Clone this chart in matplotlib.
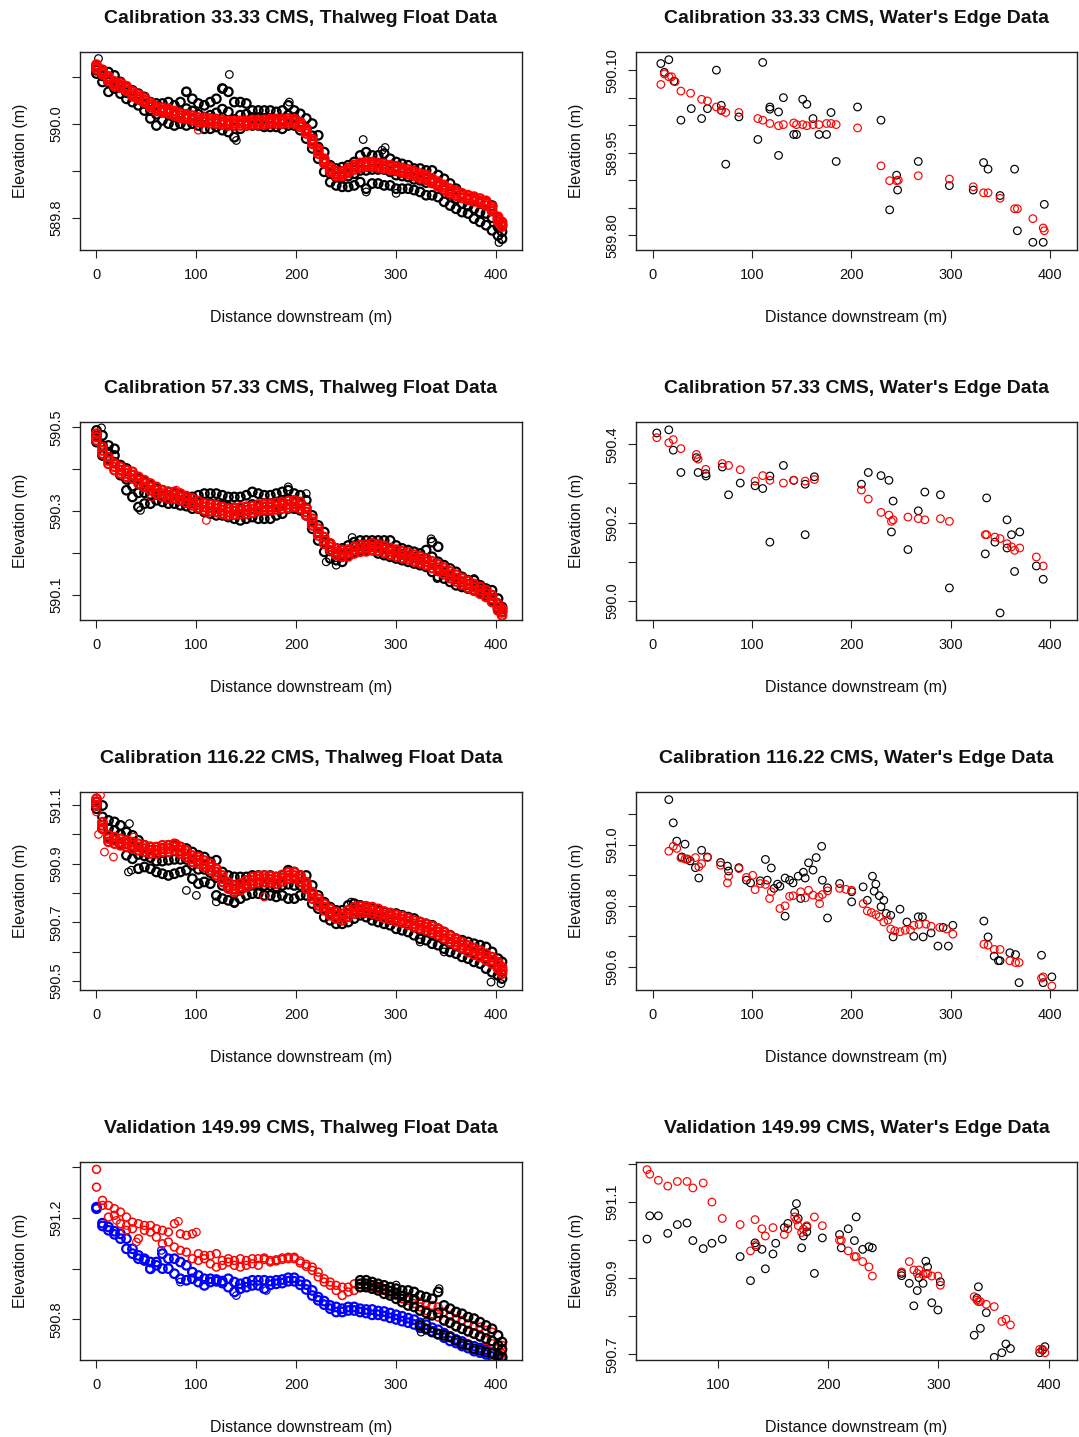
import matplotlib
matplotlib.use("Agg")
import matplotlib.pyplot as plt

plt.rcParams['font.family'] = ['Liberation Sans', 'DejaVu Sans']

# survey stations along the reach (m) used for the thalweg float tracks
STATIONS = [0, 6, 12, 18, 24, 30, 36, 42, 48, 54, 60, 66, 72, 78, 84, 90, 96, 102, 108, 114,
            120, 126, 132, 138, 144, 150, 156, 162, 168, 174, 180, 186, 192, 198, 204, 210, 216,
            222, 228, 234, 240, 246, 252, 258, 264, 270, 276, 282, 288, 294, 300, 306, 312, 318,
            324, 330, 336, 342, 348, 354, 360, 366, 372, 378, 384, 390, 396, 402, 406]

# ---- Calibration 33.33 CMS, thalweg ----
t1_blk_hi = [590.122, 590.115, 590.111, 590.104, 590.090, 590.079, 590.072, 590.065, 590.058, 590.047,
             590.044, 590.044, 590.047, 590.040, 590.047, 590.069, 590.054, 590.044, 590.040, 590.047,
             590.054, 590.076, 590.069, 590.047, 590.047, 590.044, 590.029, 590.029, 590.029, 590.029,
             590.026, 590.029, 590.040, 590.029, 590.022, 590.012, 590.001, 589.976, 589.940, 589.912,
             589.905, 589.908, 589.912, 589.919, 589.933, 589.940, 589.933, 589.933, 589.937, 589.926,
             589.919, 589.915, 589.912, 589.905, 589.905, 589.901, 589.901, 589.891, 589.883, 589.873,
             589.862, 589.848, 589.841, 589.841, 589.834, 589.834, 589.826, 589.798, 589.784]
t1_blk_mid = [590.115, 590.103, 590.090, 590.090, 590.078, 590.067, 590.060, 590.053, 590.044, 590.029,
              590.021, 590.026, 590.024, 590.019, 590.024, 590.033, 590.028, 590.021, 590.015, 590.019,
              590.024, 590.032, 590.026, 590.010, 590.019, 590.021, 590.014, 590.014, 590.012, 590.012,
              590.010, 590.010, 590.019, 590.014, 590.004, 589.990, 589.975, 589.951, 589.919, 589.894,
              589.887, 589.887, 589.889, 589.894, 589.901, 589.901, 589.903, 589.903, 589.903, 589.898,
              589.891, 589.889, 589.887, 589.882, 589.880, 589.875, 589.875, 589.868, 589.859, 589.850,
              589.841, 589.830, 589.825, 589.819, 589.812, 589.809, 589.800, 589.780, 589.770]
t1_blk_lo = [590.108, 590.090, 590.069, 590.076, 590.065, 590.054, 590.047, 590.040, 590.029, 590.012,
             589.997, 590.008, 590.001, 589.997, 590.001, 589.997, 590.001, 589.997, 589.990, 589.990,
             589.994, 589.987, 589.983, 589.972, 589.990, 589.997, 589.997, 589.997, 589.994, 589.994,
             589.994, 589.990, 589.997, 589.997, 589.987, 589.969, 589.948, 589.926, 589.898, 589.876,
             589.869, 589.866, 589.866, 589.869, 589.876, 589.862, 589.873, 589.873, 589.869, 589.869,
             589.862, 589.862, 589.862, 589.859, 589.855, 589.848, 589.848, 589.844, 589.834, 589.826,
             589.819, 589.812, 589.809, 589.798, 589.791, 589.784, 589.773, 589.762, 589.755]
t1_red_hi = [590.127, 590.116, 590.102, 590.091, 590.088, 590.081, 590.070, 590.063, 590.056, 590.046,
             590.038, 590.035, 590.033, 590.028, 590.023, 590.021, 590.018, 590.014, 590.014, 590.012,
             590.011, 590.009, 590.007, 590.007, 590.007, 590.007, 590.009, 590.009, 590.009, 590.011,
             590.011, 590.011, 590.012, 590.011, 590.004, 589.990, 589.968, 589.947, 589.926, 589.908,
             589.899, 589.899, 589.906, 589.913, 589.917, 589.919, 589.919, 589.917, 589.915, 589.912,
             589.910, 589.906, 589.903, 589.899, 589.894, 589.891, 589.884, 589.877, 589.870, 589.862,
             589.857, 589.852, 589.848, 589.845, 589.841, 589.836, 589.824, 589.802, 589.791]
t1_red_mid = [590.122, 590.111, 590.097, 590.086, 590.083, 590.076, 590.065, 590.058, 590.051, 590.041,
              590.033, 590.030, 590.028, 590.023, 590.018, 590.016, 590.013, 590.009, 590.009, 590.007,
              590.006, 590.004, 590.002, 590.002, 590.002, 590.002, 590.004, 590.004, 590.004, 590.006,
              590.006, 590.006, 590.007, 590.006, 589.999, 589.985, 589.963, 589.942, 589.921, 589.903,
              589.894, 589.894, 589.901, 589.908, 589.912, 589.914, 589.914, 589.912, 589.910, 589.907,
              589.905, 589.901, 589.898, 589.894, 589.889, 589.886, 589.879, 589.872, 589.865, 589.857,
              589.852, 589.847, 589.843, 589.840, 589.836, 589.831, 589.819, 589.797, 589.786]
t1_red_lo = [590.117, 590.106, 590.092, 590.081, 590.078, 590.071, 590.060, 590.053, 590.046, 590.036,
             590.028, 590.025, 590.023, 590.018, 590.013, 590.011, 590.008, 590.004, 590.004, 590.002,
             590.001, 589.999, 589.997, 589.997, 589.997, 589.997, 589.999, 589.999, 589.999, 590.001,
             590.001, 590.001, 590.002, 590.001, 589.994, 589.980, 589.958, 589.937, 589.916, 589.898,
             589.889, 589.889, 589.896, 589.903, 589.907, 589.909, 589.909, 589.907, 589.905, 589.902,
             589.900, 589.896, 589.893, 589.889, 589.884, 589.881, 589.874, 589.867, 589.860, 589.852,
             589.847, 589.842, 589.838, 589.835, 589.831, 589.826, 589.814, 589.792, 589.781]
t1_blk_out_x = [2, 133, 127, 90, 193, 267, 286, 403, 270, 289, 140, 300]
t1_blk_out_y = [590.140, 590.106, 590.076, 590.070, 590.047, 589.967, 589.944, 589.747, 589.855, 589.950,
                589.965, 589.852]
t1_red_out_x = [102]
t1_red_out_y = [589.987]

# ---- Calibration 57.33 CMS, thalweg ----
t2_blk_hi = [590.493, 590.481, 590.457, 590.449, 590.410, 590.402, 590.386, 590.378, 590.370, 590.362,
             590.354, 590.350, 590.346, 590.342, 590.338, 590.334, 590.334, 590.338, 590.342, 590.342,
             590.342, 590.338, 590.334, 590.334, 590.334, 590.338, 590.346, 590.342, 590.338, 590.338,
             590.342, 590.346, 590.350, 590.342, 590.338, 590.326, 590.290, 590.266, 590.250, 590.222,
             590.211, 590.211, 590.218, 590.226, 590.230, 590.230, 590.230, 590.230, 590.230, 590.230,
             590.218, 590.211, 590.207, 590.203, 590.199, 590.207, 590.226, 590.215, 590.171, 590.163,
             590.155, 590.143, 590.135, 590.135, 590.123, 590.115, 590.111, 590.091, 590.071]
t2_blk_mid = [590.480, 590.457, 590.441, 590.433, 590.398, 590.376, 590.360, 590.344, 590.344, 590.340,
              590.340, 590.336, 590.332, 590.330, 590.326, 590.324, 590.320, 590.322, 590.320, 590.318,
              590.316, 590.314, 590.310, 590.308, 590.306, 590.310, 590.316, 590.312, 590.310, 590.310,
              590.316, 590.320, 590.328, 590.324, 590.320, 590.308, 590.274, 590.249, 590.226, 590.205,
              590.197, 590.195, 590.207, 590.215, 590.218, 590.218, 590.218, 590.215, 590.213, 590.211,
              590.203, 590.197, 590.193, 590.189, 590.185, 590.187, 590.191, 590.179, 590.155, 590.147,
              590.139, 590.131, 590.125, 590.123, 590.115, 590.107, 590.099, 590.079, 590.066]
t2_blk_lo = [590.465, 590.433, 590.425, 590.417, 590.386, 590.350, 590.334, 590.310, 590.318, 590.318,
             590.326, 590.322, 590.318, 590.318, 590.314, 590.312, 590.306, 590.306, 590.298, 590.294,
             590.290, 590.290, 590.286, 590.282, 590.278, 590.282, 590.286, 590.282, 590.282, 590.282,
             590.290, 590.294, 590.306, 590.306, 590.302, 590.290, 590.258, 590.230, 590.203, 590.187,
             590.183, 590.179, 590.195, 590.203, 590.207, 590.207, 590.207, 590.199, 590.195, 590.191,
             590.187, 590.183, 590.179, 590.175, 590.171, 590.167, 590.155, 590.143, 590.139, 590.131,
             590.123, 590.119, 590.115, 590.111, 590.107, 590.099, 590.087, 590.067, 590.059]
t2_red_hi = [590.485, 590.453, 590.429, 590.414, 590.406, 590.398, 590.394, 590.382, 590.374, 590.366,
             590.358, 590.350, 590.346, 590.346, 590.342, 590.336, 590.330, 590.324, 590.318, 590.316,
             590.314, 590.310, 590.306, 590.308, 590.309, 590.310, 590.312, 590.316, 590.318, 590.318,
             590.320, 590.322, 590.324, 590.326, 590.322, 590.306, 590.282, 590.258, 590.238, 590.223,
             590.211, 590.207, 590.208, 590.215, 590.219, 590.220, 590.223, 590.221, 590.217, 590.212,
             590.208, 590.204, 590.201, 590.196, 590.192, 590.187, 590.180, 590.173, 590.165, 590.156,
             590.148, 590.140, 590.133, 590.126, 590.119, 590.111, 590.099, 590.079, 590.067]
t2_red_mid = [590.477, 590.445, 590.421, 590.406, 590.398, 590.390, 590.386, 590.374, 590.366, 590.358,
              590.350, 590.342, 590.338, 590.338, 590.334, 590.328, 590.322, 590.316, 590.310, 590.308,
              590.306, 590.302, 590.298, 590.300, 590.301, 590.302, 590.304, 590.308, 590.310, 590.310,
              590.312, 590.314, 590.316, 590.318, 590.314, 590.298, 590.274, 590.250, 590.230, 590.215,
              590.203, 590.199, 590.200, 590.207, 590.211, 590.212, 590.215, 590.213, 590.209, 590.204,
              590.200, 590.196, 590.193, 590.188, 590.184, 590.179, 590.172, 590.165, 590.157, 590.148,
              590.140, 590.132, 590.125, 590.118, 590.111, 590.103, 590.091, 590.071, 590.059]
t2_red_lo = [590.469, 590.437, 590.413, 590.398, 590.390, 590.382, 590.378, 590.366, 590.358, 590.350,
             590.342, 590.334, 590.330, 590.330, 590.326, 590.320, 590.314, 590.308, 590.302, 590.300,
             590.298, 590.294, 590.290, 590.292, 590.293, 590.294, 590.296, 590.300, 590.302, 590.302,
             590.304, 590.306, 590.308, 590.310, 590.306, 590.290, 590.266, 590.242, 590.222, 590.207,
             590.195, 590.191, 590.192, 590.199, 590.203, 590.204, 590.207, 590.205, 590.201, 590.196,
             590.192, 590.188, 590.185, 590.180, 590.176, 590.171, 590.164, 590.157, 590.149, 590.140,
             590.132, 590.124, 590.117, 590.110, 590.103, 590.095, 590.083, 590.063, 590.051]
t2_blk_out_x = [44, 230, 240, 341, 378, 192, 210, 335, 5, 256]
t2_blk_out_y = [590.302, 590.179, 590.171, 590.139, 590.139, 590.358, 590.342, 590.234, 590.499, 590.237]
t2_red_out_x = [110, 55, 80]
t2_red_out_y = [590.278, 590.334, 590.350]

# ---- Calibration 116.22 CMS, thalweg ----
t3_blk_hi = [591.111, 591.099, 591.048, 591.043, 591.031, 591.008, 590.997, 590.980, 590.963, 590.957,
             590.946, 590.952, 590.963, 590.963, 590.957, 590.952, 590.940, 590.929, 590.923, 590.906,
             590.912, 590.872, 590.860, 590.855, 590.855, 590.855, 590.860, 590.860, 590.860, 590.860,
             590.855, 590.860, 590.878, 590.872, 590.860, 590.860, 590.826, 590.792, 590.769, 590.752,
             590.741, 590.741, 590.758, 590.764, 590.758, 590.752, 590.747, 590.741, 590.735, 590.730,
             590.730, 590.724, 590.718, 590.713, 590.701, 590.695, 590.690, 590.678, 590.667, 590.656,
             590.644, 590.639, 590.633, 590.627, 590.622, 590.616, 590.599, 590.576, 590.565]
t3_blk_mid = [591.099, 591.060, 591.020, 591.014, 591.000, 590.969, 590.957, 590.932, 590.927, 590.921,
              590.909, 590.909, 590.912, 590.915, 590.915, 590.915, 590.895, 590.881, 590.881, 590.870,
              590.853, 590.826, 590.818, 590.813, 590.818, 590.824, 590.830, 590.830, 590.826, 590.826,
              590.821, 590.826, 590.830, 590.826, 590.826, 590.826, 590.796, 590.769, 590.744, 590.730,
              590.718, 590.718, 590.730, 590.739, 590.741, 590.735, 590.727, 590.722, 590.716, 590.710,
              590.705, 590.699, 590.693, 590.684, 590.673, 590.667, 590.659, 590.650, 590.639, 590.627,
              590.619, 590.610, 590.604, 590.596, 590.591, 590.579, 590.565, 590.548, 590.536]
t3_blk_lo = [591.088, 591.020, 590.991, 590.986, 590.969, 590.929, 590.917, 590.883, 590.889, 590.883,
             590.872, 590.866, 590.860, 590.866, 590.872, 590.878, 590.849, 590.832, 590.838, 590.832,
             590.792, 590.781, 590.775, 590.769, 590.781, 590.792, 590.798, 590.798, 590.792, 590.792,
             590.787, 590.792, 590.781, 590.781, 590.792, 590.792, 590.764, 590.747, 590.718, 590.707,
             590.695, 590.695, 590.701, 590.713, 590.724, 590.718, 590.707, 590.701, 590.695, 590.690,
             590.678, 590.673, 590.667, 590.656, 590.644, 590.639, 590.627, 590.622, 590.610, 590.599,
             590.593, 590.582, 590.576, 590.565, 590.559, 590.542, 590.530, 590.519, 590.508]
t3_red_hi = [591.122, 591.042, 590.997, 590.991, 590.985, 590.980, 590.974, 590.968, 590.963, 590.957,
             590.957, 590.963, 590.963, 590.968, 590.957, 590.945, 590.928, 590.923, 590.911, 590.900,
             590.883, 590.860, 590.837, 590.826, 590.832, 590.843, 590.854, 590.858, 590.860, 590.858,
             590.854, 590.862, 590.871, 590.871, 590.860, 590.837, 590.803, 590.780, 590.763, 590.746,
             590.735, 590.729, 590.741, 590.752, 590.755, 590.755, 590.752, 590.746, 590.737, 590.732,
             590.726, 590.721, 590.714, 590.706, 590.701, 590.695, 590.687, 590.678, 590.667, 590.655,
             590.644, 590.633, 590.621, 590.612, 590.604, 590.593, 590.581, 590.564, 590.547]
t3_red_mid = [591.111, 591.031, 590.986, 590.980, 590.974, 590.969, 590.963, 590.957, 590.952, 590.946,
              590.946, 590.952, 590.952, 590.957, 590.946, 590.934, 590.917, 590.912, 590.900, 590.889,
              590.872, 590.849, 590.826, 590.815, 590.821, 590.832, 590.843, 590.847, 590.849, 590.847,
              590.843, 590.851, 590.860, 590.860, 590.849, 590.826, 590.792, 590.769, 590.752, 590.735,
              590.724, 590.718, 590.730, 590.741, 590.744, 590.744, 590.741, 590.735, 590.726, 590.721,
              590.715, 590.710, 590.703, 590.695, 590.690, 590.684, 590.676, 590.667, 590.656, 590.644,
              590.633, 590.622, 590.610, 590.601, 590.593, 590.582, 590.570, 590.553, 590.536]
t3_red_lo = [591.100, 591.020, 590.975, 590.969, 590.963, 590.958, 590.952, 590.946, 590.941, 590.935,
             590.935, 590.941, 590.941, 590.946, 590.935, 590.923, 590.906, 590.901, 590.889, 590.878,
             590.861, 590.838, 590.815, 590.804, 590.810, 590.821, 590.832, 590.836, 590.838, 590.836,
             590.832, 590.840, 590.849, 590.849, 590.838, 590.815, 590.781, 590.758, 590.741, 590.724,
             590.713, 590.707, 590.719, 590.730, 590.733, 590.733, 590.730, 590.724, 590.715, 590.710,
             590.704, 590.699, 590.692, 590.684, 590.679, 590.673, 590.665, 590.656, 590.645, 590.633,
             590.622, 590.611, 590.599, 590.590, 590.582, 590.571, 590.559, 590.542, 590.525]
t3_blk_out_x = [33, 32, 35, 90, 138, 348, 395, 405, 255, 324, 100, 120]
t3_blk_out_y = [591.037, 590.872, 590.878, 590.809, 590.764, 590.599, 590.496, 590.491, 590.769, 590.633,
                590.792, 590.770]
t3_red_out_x = [4, 0, 8, 17, 37, 168, 80, 2]
t3_red_out_y = [591.134, 591.077, 590.940, 590.923, 590.991, 590.787, 590.969, 591.000]

# ---- Validation 149.99 CMS, thalweg ----
t4_red_hi = [591.391, 591.269, 591.249, 591.236, 591.223, 591.203, 591.183, 591.177, 591.170, 591.170,
             591.157, 591.151, 591.144, 591.177, 591.137, 591.131, 591.137, 591.059, 591.052, 591.052,
             591.059, 591.032, 591.039, 591.032, 591.039, 591.032, 591.039, 591.039, 591.042, 591.032,
             591.035, 591.042, 591.045, 591.045, 591.030, 591.017, 591.006, 590.986, 590.960, 590.947,
             590.934, 590.927, 590.927, 590.940, 590.940, 590.934, 590.934, 590.927, 590.921, 590.914,
             590.908, 590.894, 590.888, 590.881, 590.868, 590.862, 590.855, 590.849, 590.829, 590.816,
             590.803, 590.796, 590.783, 590.776, 590.770, 590.757, 590.750, 590.737, 590.698]
t4_red_lo = [591.321, 591.249, 591.203, 591.210, 591.177, 591.151, 591.157, 591.118, 591.151, 591.144,
             591.124, 591.098, 591.105, 591.085, 591.072, 591.065, 591.039, 591.032, 591.039, 591.019,
             591.006, 591.013, 591.026, 591.013, 591.006, 591.013, 591.019, 591.013, 591.036, 591.026,
             591.030, 591.036, 591.039, 591.039, 591.022, 591.009, 590.993, 590.967, 590.947, 590.934,
             590.914, 590.894, 590.908, 590.914, 590.927, 590.927, 590.927, 590.921, 590.914, 590.901,
             590.894, 590.881, 590.875, 590.862, 590.849, 590.835, 590.822, 590.809, 590.796, 590.783,
             590.770, 590.763, 590.750, 590.744, 590.730, 590.717, 590.704, 590.685, 590.665]
t4_blue_hi = [591.242, 591.179, 591.164, 591.147, 591.137, 591.118, 591.078, 591.052, 591.039, 591.026,
              591.026, 591.059, 591.039, 591.039, 591.026, 591.013, 590.986, 590.973, 590.960, 590.960,
              590.957, 590.951, 590.960, 590.947, 590.940, 590.947, 590.954, 590.954, 590.954, 590.951,
              590.954, 590.957, 590.964, 590.964, 590.951, 590.937, 590.914, 590.888, 590.872, 590.855,
              590.849, 590.842, 590.849, 590.849, 590.842, 590.839, 590.839, 590.833, 590.831, 590.825,
              590.818, 590.812, 590.805, 590.799, 590.786, 590.779, 590.767, 590.759, 590.746, 590.733,
              590.721, 590.713, 590.701, 590.694, 590.687, 590.680, 590.669, 590.658, 590.652]
t4_blue_lo = [591.236, 591.168, 591.151, 591.135, 591.118, 591.078, 591.059, 591.039, 591.032, 590.999,
              591.013, 591.000, 591.000, 590.980, 590.960, 590.954, 590.960, 590.947, 590.934, 590.947,
              590.950, 590.943, 590.927, 590.908, 590.921, 590.927, 590.934, 590.934, 590.921, 590.936,
              590.940, 590.943, 590.950, 590.950, 590.936, 590.918, 590.894, 590.875, 590.858, 590.842,
              590.829, 590.829, 590.835, 590.835, 590.829, 590.825, 590.818, 590.818, 590.813, 590.806,
              590.800, 590.793, 590.787, 590.780, 590.767, 590.761, 590.753, 590.741, 590.728, 590.715,
              590.707, 590.695, 590.687, 590.675, 590.669, 590.662, 590.654, 590.645, 590.642]
# observed floats only cover the lower reach (stations from 264 m)
t4_blk_hi = [590.954, 590.954, 590.947, 590.940, 590.934, 590.927, 590.921, 590.914, 590.914, 590.908,
             590.894, 590.888, 590.881, 590.908, 590.855, 590.842, 590.829, 590.822, 590.809, 590.803,
             590.789, 590.776, 590.763, 590.737, 590.711]
t4_blk_mid = [590.940, 590.940, 590.934, 590.927, 590.918, 590.911, 590.901, 590.892, 590.885, 590.879,
              590.835, 590.826, 590.816, 590.826, 590.796, 590.787, 590.774, 590.763, 590.754, 590.744,
              590.734, 590.724, 590.715, 590.698, 590.682]
t4_blk_lo = [590.927, 590.927, 590.921, 590.914, 590.901, 590.894, 590.881, 590.868, 590.855, 590.849,
             590.776, 590.763, 590.750, 590.743, 590.737, 590.730, 590.717, 590.704, 590.698, 590.684,
             590.678, 590.671, 590.665, 590.658, 590.652]
t4_blk_out_x = [325, 343, 330, 300]
t4_blk_out_y = [590.750, 590.921, 590.790, 590.935]
t4_red_out_x = [82, 100, 40, 20, 30]
t4_red_out_y = [591.186, 591.144, 591.105, 591.190, 591.170]
t4_blue_out_x = [140, 170, 84, 53, 65]
t4_blue_out_y = [590.894, 590.914, 590.947, 591.000, 591.072]

# ---- water's edge: observed (black) and modelled (red) ----
w1_blk_x = [8.3, 16.3, 11.8, 21.5, 28.5, 38.9, 49.3, 55.2, 64.2, 69.1, 69.1, 73.6, 86.8, 105.9, 110.8,
            118.0, 118.0, 126.7, 126.7, 131.6, 142.0, 144.8, 151.0, 155.2, 161.4, 167.4, 175.0, 179.5,
            184.7, 206.2, 229.8, 245.5, 246.5, 238.5, 267.3, 298.6, 322.6, 333.0, 337.5, 349.6, 364.2,
            367.0, 382.6, 393.0, 394.1]
w1_blk_y = [590.112, 590.119, 590.096, 590.080, 590.009, 590.030, 590.012, 590.030, 590.100, 590.036,
            590.027, 589.929, 590.015, 589.974, 590.114, 590.033, 590.029, 590.024, 589.945, 590.050,
            589.983, 589.983, 590.047, 590.038, 590.012, 589.983, 589.983, 590.023, 589.934, 590.033,
            590.009, 589.909, 589.882, 589.846, 589.934, 589.890, 589.882, 589.932, 589.920, 589.872,
            589.920, 589.808, 589.787, 589.787, 589.856]
w1_red_x = [8.3, 11.8, 16.3, 19.1, 22.6, 28.5, 38.2, 49.3, 55.2, 64.2, 69.1, 73.6, 86.8, 105.9, 110.8,
            118.0, 126.7, 131.6, 142.0, 144.8, 151.0, 155.2, 161.4, 167.4, 175.0, 179.5, 184.7, 206.2,
            229.8, 238.5, 245.5, 247.2, 267.3, 298.6, 322.6, 333.0, 337.5, 349.6, 364.2, 367.0, 382.6,
            393.0, 394.1]
w1_red_y = [590.074, 590.093, 590.088, 590.088, 590.079, 590.062, 590.058, 590.047, 590.044, 590.033,
            590.027, 590.023, 590.023, 590.012, 590.009, 590.003, 589.999, 590.001, 590.004, 590.001,
            590.001, 589.999, 590.001, 590.001, 590.003, 590.003, 590.001, 589.995, 589.926, 589.899,
            589.899, 589.900, 589.908, 589.902, 589.888, 589.877, 589.877, 589.867, 589.848, 589.848,
            589.830, 589.813, 589.808]

w2_blk_x = [4.2, 16.3, 20.8, 28.5, 44.1, 45.8, 53.5, 53.8, 70.1, 76.4, 88.2, 103.1, 110.8, 118.0, 118.0,
            131.6, 142.0, 153.5, 153.5, 162.8, 210.1, 217.0, 229.8, 237.8, 242.0, 240.3, 256.9, 267.3,
            273.9, 289.6, 298.6, 334.7, 336.1, 344.4, 349.6, 356.6, 356.6, 361.1, 364.2, 369.4, 386.1,
            393.0]
w2_blk_y = [590.429, 590.437, 590.385, 590.328, 590.366, 590.328, 590.325, 590.319, 590.342, 590.271,
            590.301, 590.294, 590.287, 590.319, 590.150, 590.346, 590.308, 590.298, 590.169, 590.317,
            590.298, 590.328, 590.320, 590.308, 590.255, 590.176, 590.131, 590.230, 590.278, 590.271,
            590.033, 590.120, 590.263, 590.150, 589.969, 590.207, 590.135, 590.169, 590.075, 590.176,
            590.089, 590.055]
w2_red_x = [4.2, 16.3, 20.8, 28.5, 44.1, 45.8, 53.5, 70.1, 76.4, 88.2, 103.1, 110.8, 118.0, 131.6, 142.0,
            153.5, 162.8, 210.1, 217.0, 229.8, 237.8, 240.3, 242.0, 256.9, 267.3, 273.9, 289.6, 298.6,
            334.7, 336.1, 344.4, 349.6, 356.6, 361.1, 364.2, 369.4, 386.1, 393.0]
w2_red_y = [590.417, 590.404, 590.412, 590.389, 590.374, 590.362, 590.336, 590.351, 590.346, 590.335,
            590.306, 590.320, 590.308, 590.301, 590.308, 590.306, 590.310, 590.283, 590.260, 590.226,
            590.219, 590.203, 590.207, 590.214, 590.210, 590.207, 590.210, 590.203, 590.169, 590.169,
            590.163, 590.159, 590.146, 590.138, 590.129, 590.135, 590.112, 590.089]

w3_blk_x = [16.3, 20.8, 24.3, 29.5, 32.6, 34.7, 37.8, 43.1, 46.5, 49.3, 55.2, 68.4, 75.3, 76.4, 86.8,
            94.4, 98.6, 108.3, 113.5, 115.3, 119.4, 122.2, 125.7, 128.1, 133.3, 133.3, 137.8, 141.3,
            146.5, 149.0, 151.7, 153.5, 156.9, 161.4, 164.6, 170.1, 170.8, 176.0, 176.0, 188.2, 200.3,
            200.3, 211.8, 216.0, 221.2, 224.6, 222.9, 228.1, 229.8, 232.6, 235.1, 239.6, 242.0, 248.9,
            255.9, 262.8, 267.3, 271.5, 272.2, 280.2, 287.1, 292.3, 297.6, 302.1, 333.3, 337.5, 343.7,
            347.9, 349.6, 359.4, 365.2, 368.7, 391.3, 393.0, 401.7]
w3_blk_y = [591.148, 591.072, 591.012, 590.960, 591.002, 590.953, 590.947, 590.925, 590.891, 590.982,
            590.960, 590.942, 590.930, 590.914, 590.925, 590.884, 590.875, 590.882, 590.952, 590.884,
            590.924, 590.857, 590.871, 590.864, 590.891, 590.766, 590.884, 590.875, 590.897, 590.824,
            590.910, 590.891, 590.941, 590.917, 590.958, 590.995, 590.884, 590.760, 590.859, 590.873,
            590.846, 590.813, 590.862, 590.818, 590.897, 590.871, 590.848, 590.833, 590.797, 590.818,
            590.775, 590.769, 590.698, 590.789, 590.747, 590.700, 590.764, 590.764, 590.698, 590.711,
            590.668, 590.729, 590.668, 590.736, 590.750, 590.698, 590.635, 590.620, 590.620, 590.646,
            590.640, 590.548, 590.638, 590.548, 590.567]
w3_red_x = [16.3, 20.8, 24.3, 28.5, 32.6, 35.4, 43.1, 46.5, 49.3, 55.2, 68.4, 75.3, 76.4, 86.8, 94.4,
            100.7, 103.1, 108.3, 113.5, 117.7, 119.4, 128.1, 133.3, 137.8, 141.3, 149.0, 153.5, 156.9,
            161.4, 167.4, 168.0, 170.8, 176.0, 188.2, 194.4, 200.3, 211.8, 216.0, 220.1, 224.6, 228.1,
            232.6, 236.8, 239.6, 243.7, 248.9, 254.2, 259.4, 262.8, 268.0, 275.0, 280.2, 288.9, 295.8,
            302.1, 333.3, 337.5, 343.7, 349.6, 359.4, 365.2, 368.7, 391.3, 393.0, 401.7]
w3_red_y = [590.979, 590.995, 590.988, 590.957, 590.953, 590.953, 590.958, 590.928, 590.938, 590.958,
            590.933, 590.875, 590.897, 590.922, 590.893, 590.900, 590.853, 590.873, 590.870, 590.824,
            590.846, 590.791, 590.800, 590.831, 590.833, 590.846, 590.826, 590.851, 590.835, 590.829,
            590.807, 590.837, 590.849, 590.857, 590.854, 590.851, 590.807, 590.783, 590.778, 590.771,
            590.764, 590.747, 590.753, 590.724, 590.718, 590.715, 590.720, 590.720, 590.736, 590.739,
            590.740, 590.733, 590.729, 590.724, 590.707, 590.674, 590.671, 590.657, 590.657, 590.620,
            590.614, 590.614, 590.563, 590.567, 590.537]

w4_blk_x = [35.5, 38.0, 45.8, 54.3, 63.0, 71.8, 77.1, 86.5, 94.4, 103.8, 120.0, 129.4, 133.5, 134.5,
            139.8, 142.9, 149.8, 152.3, 160.1, 163.3, 169.5, 171.1, 172.7, 175.8, 177.4, 180.5, 180.5,
            187.4, 194.6, 210.2, 211.8, 218.1, 223.7, 225.3, 231.2, 236.9, 240.0, 266.6, 266.6, 273.5,
            277.6, 280.7, 282.3, 286.0, 288.5, 290.1, 293.9, 299.5, 301.7, 332.4, 334.9, 336.2, 338.0,
            343.4, 350.6, 357.5, 361.2, 365.3, 391.9, 394.4, 396.6]
w4_blk_y = [591.002, 591.063, 591.063, 591.017, 591.040, 591.044, 590.998, 590.977, 590.991, 591.002,
            590.956, 590.893, 590.992, 590.982, 590.975, 590.924, 590.963, 590.991, 591.032, 591.043,
            591.072, 591.095, 591.056, 590.979, 591.010, 591.021, 591.034, 590.912, 591.005, 591.014,
            590.979, 591.029, 590.998, 591.060, 590.975, 590.982, 590.979, 590.912, 590.906, 590.886,
            590.827, 590.867, 590.901, 590.886, 590.944, 590.929, 590.835, 590.816, 590.890, 590.750,
            590.847, 590.877, 590.768, 590.809, 590.692, 590.704, 590.727, 590.715, 590.704, 590.711,
            590.720]
w4_red_x = [35.5, 38.0, 45.8, 54.3, 63.0, 71.8, 77.1, 86.5, 94.4, 103.8, 120.0, 129.4, 133.5, 134.5,
            139.8, 142.9, 149.8, 160.1, 163.3, 169.5, 171.1, 172.7, 175.8, 177.4, 180.5, 187.4, 194.6,
            210.2, 211.8, 218.1, 223.7, 225.3, 231.2, 236.9, 240.0, 266.6, 273.5, 277.6, 280.7, 282.3,
            286.0, 288.5, 290.1, 293.9, 299.5, 301.7, 332.4, 334.9, 336.2, 338.0, 343.4, 350.6, 357.5,
            361.2, 365.3, 391.9, 394.4, 396.6]
w4_red_y = [591.184, 591.172, 591.156, 591.141, 591.153, 591.153, 591.136, 591.149, 591.099, 591.056,
            591.040, 590.971, 591.053, 590.987, 591.029, 591.010, 591.032, 591.014, 591.029, 591.060,
            591.052, 591.037, 591.019, 591.028, 591.037, 591.060, 591.037, 590.999, 590.999, 590.971,
            590.956, 590.956, 590.943, 590.929, 590.905, 590.916, 590.943, 590.921, 590.912, 590.921,
            590.909, 590.912, 590.912, 590.905, 590.905, 590.881, 590.851, 590.842, 590.838, 590.838,
            590.831, 590.825, 590.786, 590.792, 590.777, 590.713, 590.713, 590.704]

# titles and axis ticks
thal_titles = ['Calibration 33.33 CMS, Thalweg Float Data', 'Calibration 57.33 CMS, Thalweg Float Data',
               'Calibration 116.22 CMS, Thalweg Float Data', 'Validation 149.99 CMS, Thalweg Float Data']
edge_titles = ["Calibration 33.33 CMS, Water's Edge Data", "Calibration 57.33 CMS, Water's Edge Data",
               "Calibration 116.22 CMS, Water's Edge Data", "Validation 149.99 CMS, Water's Edge Data"]
dist_ticks = [0, 100, 200, 300, 400]
dist_ticks_val = [100, 200, 300, 400]
thal_yticks = [[589.8, 589.9, 590.0, 590.1],
               [590.1, 590.2, 590.3, 590.4, 590.5],
               [590.5, 590.6, 590.7, 590.8, 590.9, 591.0, 591.1],
               [590.8, 591.0, 591.2, 591.4]]
thal_ylabels = [['589.8', '', '590.0', ''],
                ['590.1', '', '590.3', '', '590.5'],
                ['590.5', '', '590.7', '', '590.9', '', '591.1'],
                ['590.8', '', '591.2', '']]
edge_yticks = [[589.80, 589.85, 589.90, 589.95, 590.00, 590.05, 590.10],
               [590.0, 590.1, 590.2, 590.3, 590.4],
               [590.6, 590.7, 590.8, 590.9, 591.0, 591.1],
               [590.7, 590.8, 590.9, 591.0, 591.1, 591.2]]
edge_ylabels = [['589.80', '', '', '589.95', '', '', '590.10'],
                ['590.0', '', '590.2', '', '590.4'],
                ['590.6', '', '590.8', '', '591.0', ''],
                ['590.7', '', '590.9', '', '591.1', '']]

thal_ylim = [(589.731, 590.154), (590.040, 590.513), (590.469, 591.145), (590.640, 591.420)]
edge_ylim = [(589.773, 590.133), (589.951, 590.457), (590.524, 591.173), (590.685, 591.204)]

W, H = 1079, 1437
fig = plt.figure(figsize=(W / 100, H / 100), dpi=100)


def add_panel(col, row):
    left = [80, 636][col]
    width = [442, 441][col]
    top = [52, 422, 792, 1162][row]
    return fig.add_axes([left / W, 1 - (top + 198) / H, width / W, 198 / H])


def rings(ax, x, y, color, lw=0.85, s=30):
    ax.scatter(x, y, s=s, facecolors='none', edgecolors=color, linewidths=lw, zorder=3)


def track(ax, x, y, color):
    # dense float tracks: heavier rings so neighbouring readings merge into a band
    rings(ax, x, y, color, lw=1.6, s=38)


def dress(ax, title, xlim, ylim, xticks, yticks, ylabels):
    ax.set_xlim(xlim)
    ax.set_ylim(ylim)
    ax.set_xticks(xticks)
    ax.set_xticklabels([str(t) for t in xticks])
    ax.set_yticks(yticks)
    ax.set_yticklabels(ylabels)
    ax.tick_params(axis='both', direction='out', length=6, width=0.8, labelsize=10.5,
                   color='#222222', labelcolor='#111111')
    ax.tick_params(axis='x', pad=7)
    ax.tick_params(axis='y', pad=6)
    for lab in ax.get_yticklabels():
        lab.set_rotation(90)
        lab.set_va('center')
    for sp in ax.spines.values():
        sp.set_linewidth(1.0)
        sp.set_color('#222222')
    ax.set_title(title, fontsize=14, fontweight='bold', pad=21, color='#111111')
    ax.set_xlabel('Distance downstream (m)', fontsize=11.5, labelpad=20, color='#111111')
    ax.set_ylabel('Elevation (m)', fontsize=11.5, labelpad=15, color='#111111')


thal_sets = [
    (t1_blk_hi, t1_blk_mid, t1_blk_lo, t1_red_hi, t1_red_mid, t1_red_lo,
     t1_blk_out_x, t1_blk_out_y, t1_red_out_x, t1_red_out_y),
    (t2_blk_hi, t2_blk_mid, t2_blk_lo, t2_red_hi, t2_red_mid, t2_red_lo,
     t2_blk_out_x, t2_blk_out_y, t2_red_out_x, t2_red_out_y),
    (t3_blk_hi, t3_blk_mid, t3_blk_lo, t3_red_hi, t3_red_mid, t3_red_lo,
     t3_blk_out_x, t3_blk_out_y, t3_red_out_x, t3_red_out_y),
]

# calibration thalweg panels: observed floats in black, model in red on top
for row, (bh, bm, bl, rh, rm, rl, box, boy, rox, roy) in enumerate(thal_sets):
    ax = add_panel(0, row)
    for ys in (bh, bm, bl):
        track(ax, STATIONS, ys, 'black')
    rings(ax, box, boy, 'black')
    for ys in (rh, rm, rl):
        track(ax, STATIONS, ys, 'red')
    rings(ax, rox, roy, 'red')
    dress(ax, thal_titles[row], (-16.5, 426), thal_ylim[row], dist_ticks,
          thal_yticks[row], thal_ylabels[row])

# validation thalweg panel: two model runs (red, blue) plus observed floats
ax = add_panel(0, 3)
for ys in (t4_blue_hi, t4_blue_lo):
    track(ax, STATIONS, ys, 'blue')
rings(ax, t4_blue_out_x, t4_blue_out_y, 'blue')
for ys in (t4_red_hi, t4_red_lo):
    rings(ax, STATIONS, ys, 'red', lw=1.1, s=32)
rings(ax, t4_red_out_x, t4_red_out_y, 'red')
for ys in (t4_blk_hi, t4_blk_mid, t4_blk_lo):
    track(ax, STATIONS[44:], ys, 'black')
rings(ax, t4_blk_out_x, t4_blk_out_y, 'black')
dress(ax, thal_titles[3], (-16.5, 426), thal_ylim[3], dist_ticks, thal_yticks[3], thal_ylabels[3])

# water's edge panels
edge_sets = [(w1_blk_x, w1_blk_y, w1_red_x, w1_red_y),
             (w2_blk_x, w2_blk_y, w2_red_x, w2_red_y),
             (w3_blk_x, w3_blk_y, w3_red_x, w3_red_y),
             (w4_blk_x, w4_blk_y, w4_red_x, w4_red_y)]
for row, (bx, by, rx, ry) in enumerate(edge_sets):
    ax = add_panel(1, row)
    rings(ax, bx, by, 'black')
    rings(ax, rx, ry, 'red')
    if row < 3:
        dress(ax, edge_titles[row], (-16.7, 427), edge_ylim[row], dist_ticks,
              edge_yticks[row], edge_ylabels[row])
    else:
        dress(ax, edge_titles[row], (25.5, 425.7), edge_ylim[row], dist_ticks_val,
              edge_yticks[row], edge_ylabels[row])

fig.savefig('out.png', dpi=100, facecolor='white')
